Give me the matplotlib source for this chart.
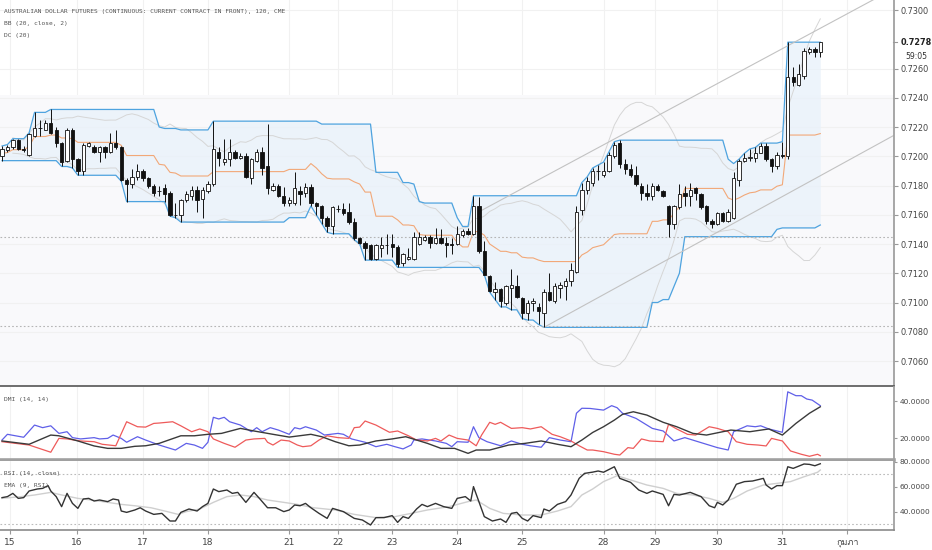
import numpy as np
import pandas as pd
import matplotlib
matplotlib.use("Agg")
import matplotlib.pyplot as plt
from matplotlib import font_manager
from fontTools.ttLib import TTFont

# 120 minute bars, AUD futures
opens = [.7200, .7204, .7206, .7211, .7205, .7201, .7214, .7219, .7218, .7223,
         .7218, .7209, .7197, .7218, .7198, .7190, .7207, .7206, .7203, .7206,
         .7203, .7209, .7206, .7184, .7181, .7186, .7190, .7185, .7180, .7176,
         .7178, .7175, .7160, .7160, .7170, .7173, .7177, .7171, .7176, .7181,
         .7203, .7196, .7198, .7203, .7199, .7200, .7185, .7197, .7203, .7193,
         .7177, .7180, .7173, .7168, .7168, .7176, .7175, .7179, .7168, .7166,
         .7158, .7152, .7164, .7164, .7162, .7155, .7144, .7141, .7139, .7130,
         .7137, .7139, .7140, .7138, .7127, .7130, .7130, .7140, .7143, .7145,
         .7141, .7144, .7141, .7140, .7140, .7146, .7149, .7147, .7166, .7135,
         .7118, .7107, .7109, .7100, .7110, .7111, .7103, .7093, .7100, .7097,
         .7093, .7107, .7101, .7110, .7111, .7115, .7121, .7163, .7177, .7182,
         .7190, .7187, .7190, .7200, .7209, .7195, .7191, .7187, .7180, .7175,
         .7173, .7180, .7176, .7166, .7154, .7165, .7175, .7173, .7178, .7174,
         .7166, .7156, .7154, .7161, .7156, .7158, .7184, .7197, .7199, .7199,
         .7202, .7207, .7198, .7193, .7201, .7200, .7254, .7249, .7255, .7271,
         .7273, .7271]
highs = [.7207, .7208, .7212, .7212, .7207, .7216, .7230, .7225, .7225, .7232,
         .7220, .7210, .7219, .7219, .7199, .7209, .7210, .7208, .7207, .7207,
         .7216, .7218, .7207, .7185, .7191, .7195, .7191, .7186, .7181, .7180,
         .7181, .7176, .7168, .7171, .7176, .7180, .7180, .7179, .7183, .7224,
         .7206, .7212, .7212, .7204, .7202, .7202, .7199, .7205, .7206, .7222,
         .7182, .7181, .7179, .7172, .7189, .7180, .7182, .7181, .7169, .7167,
         .7159, .7166, .7167, .7168, .7168, .7158, .7145, .7142, .7140, .7140,
         .7145, .7147, .7147, .7139, .7134, .7137, .7148, .7148, .7146, .7146,
         .7151, .7150, .7145, .7144, .7152, .7150, .7151, .7173, .7172, .7142,
         .7119, .7114, .7110, .7112, .7123, .7119, .7104, .7102, .7103, .7100,
         .7109, .7120, .7113, .7114, .7117, .7127, .7166, .7182, .7186, .7192,
         .7194, .7196, .7203, .7210, .7211, .7198, .7195, .7193, .7182, .7181,
         .7182, .7181, .7177, .7167, .7167, .7181, .7180, .7182, .7179, .7175,
         .7167, .7157, .7162, .7162, .7164, .7189, .7198, .7202, .7205, .7206,
         .7209, .7209, .7199, .7203, .7210, .7278, .7261, .7263, .7274, .7275,
         .7275, .7278]
lows = [.7197, .7203, .7205, .7204, .7203, .7200, .7213, .7214, .7218, .7215,
        .7206, .7193, .7196, .7192, .7187, .7187, .7206, .7202, .7196, .7199,
        .7202, .7205, .7183, .7169, .7178, .7184, .7183, .7178, .7173, .7173,
        .7169, .7159, .7158, .7155, .7169, .7170, .7162, .7158, .7175, .7180,
        .7193, .7194, .7193, .7198, .7198, .7185, .7181, .7196, .7187, .7174,
        .7176, .7172, .7166, .7166, .7167, .7167, .7172, .7166, .7160, .7154,
        .7148, .7147, .7162, .7160, .7154, .7143, .7140, .7129, .7129, .7129,
        .7131, .7133, .7131, .7124, .7125, .7129, .7129, .7139, .7142, .7137,
        .7140, .7140, .7131, .7133, .7139, .7145, .7146, .7146, .7134, .7119,
        .7107, .7102, .7097, .7098, .7095, .7103, .7089, .7088, .7094, .7085,
        .7083, .7101, .7100, .7103, .7102, .7111, .7120, .7160, .7174, .7180,
        .7184, .7186, .7189, .7199, .7192, .7188, .7186, .7180, .7170, .7170,
        .7170, .7176, .7172, .7145, .7150, .7164, .7166, .7166, .7170, .7164,
        .7154, .7151, .7153, .7155, .7155, .7157, .7180, .7196, .7197, .7196,
        .7202, .7197, .7189, .7191, .7199, .7198, .7248, .7248, .7253, .7270,
        .7268, .7268]
closes = [.7205, .7206, .7211, .7205, .7204, .7215, .7219, .7219, .7223, .7216,
          .7209, .7196, .7218, .7198, .7190, .7208, .7209, .7203, .7206, .7203,
          .7209, .7206, .7184, .7181, .7186, .7190, .7185, .7180, .7175, .7176,
          .7174, .7160, .7160, .7170, .7174, .7177, .7170, .7177, .7181, .7205,
          .7199, .7198, .7203, .7199, .7200, .7186, .7198, .7203, .7192, .7178,
          .7180, .7173, .7168, .7170, .7178, .7174, .7179, .7168, .7166, .7158,
          .7152, .7165, .7164, .7161, .7155, .7144, .7141, .7137, .7130, .7139,
          .7139, .7139, .7138, .7126, .7133, .7131, .7145, .7145, .7145, .7141,
          .7144, .7141, .7139, .7139, .7147, .7149, .7147, .7166, .7135, .7119,
          .7108, .7109, .7101, .7111, .7112, .7104, .7093, .7100, .7101, .7094,
          .7107, .7102, .7111, .7112, .7115, .7122, .7162, .7177, .7183, .7190,
          .7190, .7190, .7201, .7208, .7195, .7191, .7187, .7181, .7175, .7173,
          .7180, .7177, .7173, .7154, .7166, .7174, .7173, .7177, .7175, .7165,
          .7156, .7154, .7161, .7156, .7162, .7185, .7197, .7199, .7199, .7202,
          .7207, .7198, .7193, .7201, .7200, .7254, .7251, .7256, .7272, .7273,
          .7271, .7278]

day_pos = [1.5, 13.8, 26, 38, 53, 62, 72, 84, 96, 111, 120.5, 132, 144, 156]
day_labels = ['15', '16', '17', '18', '21', '22', '23', '24', '25', '28', '29', '30', '31', 'กุมภา']

price_ticks = [0.7060, 0.7080, 0.7100, 0.7120, 0.7140, 0.7160, 0.7180, 0.7200,
               0.7220, 0.7240, 0.7260, 0.7300]
last_price = 0.7278
hlines = [0.7145, 0.7084]
chan_up = [(88, 0.7162), (152.8, 0.72911)]
chan_lo = [(100, 0.7083), (154.6, 0.7194)]

# DMI (14, 14)
pdi_x = [0, 1, 4, 6, 7.5, 9, 10.5, 12, 13, 14.5, 17, 18, 19.5, 20.5, 22, 23, 25, 26.5, 29, 32,
         34, 35.5, 37, 38, 39, 40, 41, 42, 44, 46, 47, 48, 49.5, 51, 53, 54, 55, 56, 58, 59.5,
         62, 63, 64.5, 67, 69, 71, 72.5, 74, 75.5, 76, 77.5, 80, 82, 83, 84, 86, 87, 88, 89.5, 92,
         94, 96, 97.5, 99.5, 101, 103, 105, 106, 107, 108.5, 111, 112.5, 113.5, 114.5, 117, 120,
         122, 124, 126, 128, 130, 132, 134, 135, 137.5, 139, 140, 141.5, 144, 145, 146.5, 147.5,
         148.5, 149.5, 151]
pdi = [18.9, 22.0, 20.4, 27.0, 25.6, 26.6, 22.5, 23.4, 20.2, 19.5, 20.2, 19.5, 19.8, 21.6, 19.8,
       17.7, 20.7, 18.9, 16.2, 13.5, 17.1, 16.2, 14.4, 17.7, 31.2, 30.3, 31.2, 28.8, 27.0, 23.4,
       25.6, 23.4, 25.6, 24.3, 22.0, 25.6, 24.9, 26.1, 24.3, 21.6, 22.5, 22.0, 19.5, 17.7, 15.3,
       16.6, 15.3, 14.1, 16.2, 18.9, 19.5, 18.4, 17.1, 15.3, 18.0, 17.7, 26.1, 20.2, 18.0, 15.8,
       18.4, 16.6, 15.8, 15.0, 20.2, 18.9, 18.0, 33.4, 36.1, 36.0, 35.1, 37.5, 36.4, 33.4, 30.6,
       25.2, 23.8, 18.4, 20.2, 18.4, 16.6, 14.8, 13.5, 23.4, 26.6, 26.1, 26.6, 24.9, 23.1, 45.0,
       42.9, 42.9, 41.1, 40.5, 37.5]
mdi_x = [0, 2.5, 5, 9, 10.5, 12, 14.5, 17, 18.5, 21, 23, 25, 26.5, 28, 29, 31.5, 33, 35, 36.5, 38,
         39, 41, 43, 45, 46.5, 48.5, 49, 50, 51.5, 53, 54.5, 55.5, 57, 58.5, 60, 62, 64, 65, 66, 67,
         69, 71.5, 73, 75, 76.5, 78.5, 80, 81, 82.5, 84, 86, 87.5, 88.5, 90, 91, 92, 94, 96, 97.5,
         99.5, 101.5, 103, 105, 106.5, 108, 109, 111, 113, 114, 115.5, 116.5, 118, 119.5, 122, 123,
         124.5, 126.5, 128, 130.5, 132, 134, 135.5, 137.5, 139.5, 141, 142, 144, 145.5, 147.5, 149,
         150.5, 151]
mdi = [18.0, 17.1, 16.2, 12.3, 19.8, 19.5, 18.4, 18.0, 16.6, 15.8, 28.8, 26.1, 25.9, 27.9, 28.1,
       28.8, 26.6, 23.4, 24.9, 23.4, 19.5, 17.1, 15.0, 18.9, 19.5, 19.8, 17.7, 16.2, 18.9, 18.4,
       16.2, 15.3, 15.8, 18.9, 21.2, 20.2, 19.8, 25.6, 25.9, 29.2, 27.0, 23.1, 23.8, 21.2, 18.9,
       18.4, 19.8, 18.4, 21.6, 19.8, 18.9, 15.8, 21.6, 28.5, 27.4, 28.5, 25.2, 25.6, 24.9, 26.1,
       22.0, 20.7, 18.4, 15.8, 13.5, 13.5, 12.6, 11.2, 10.8, 14.8, 14.4, 19.5, 18.4, 18.0, 27.4,
       24.9, 22.0, 21.6, 26.1, 25.2, 23.4, 18.0, 16.6, 16.2, 15.7, 19.8, 18.4, 13.0, 11.2, 10.1,
       11.2, 10.4]
adx_x = [0, 5, 9, 10.5, 14, 17, 19.5, 22, 24.5, 26.5, 29, 33, 35.5, 38, 40.5, 44, 46.5, 50, 53,
         57, 59, 61.5, 64, 66, 69, 72, 74.5, 76.5, 78.5, 81, 83.5, 86, 87.5, 90, 93.5, 96.5, 99.5,
         102.5, 105, 107, 109, 111, 113, 114.5, 116.5, 119, 122, 124.5, 127.5, 130, 134.5, 138,
         141.5, 144, 146.5, 149, 151]
adx = [18.4, 16.6, 21.6, 21.2, 18.4, 15.7, 14.4, 14.4, 15.5, 15.8, 17.1, 21.2, 21.2, 22.0, 22.5,
       25.2, 23.8, 22.0, 20.5, 22.0, 20.7, 18.0, 15.8, 16.2, 18.4, 19.5, 20.7, 18.9, 17.1, 14.4,
       14.4, 11.7, 13.5, 13.5, 16.2, 17.1, 18.4, 16.6, 15.3, 18.9, 23.0, 26.1, 29.7, 32.8, 34.2,
       32.4, 28.5, 26.1, 22.5, 21.6, 24.3, 23.4, 24.9, 21.6, 27.9, 33.4, 36.9]

# RSI (14, close) and EMA (9, RSI)
rsi_x = [0, 1, 2, 3, 4, 5, 6.5, 7.5, 8.5, 9, 10, 11, 12, 13, 14, 15, 16, 17, 18, 19.5, 20.5, 21.5,
         22, 23, 24.5, 25.5, 26.5, 28, 29.5, 31, 32, 33, 34.5, 36, 37, 38, 39, 40, 41.5, 42.5, 43.5,
         45, 46.5, 47.5, 49, 50.5, 52, 53, 54, 55, 56, 57, 58.5, 60, 61, 62, 63, 65, 66.5, 68, 69,
         70.5, 72, 73, 74, 75, 76.5, 77.5, 78.5, 80, 81.5, 83, 84, 85.5, 86.5, 87, 88, 89, 90.5, 92,
         93, 94, 95, 96, 97, 98, 99.5, 100, 101, 102.5, 104, 105, 106.5, 107.5, 109, 110, 111, 113,
         114, 116, 117.5, 119, 120, 122, 123, 124, 125, 127, 129, 130.5, 131.5, 132, 133, 134,
         135.5, 137, 138.5, 140.5, 141, 142, 143, 144, 145, 146, 148, 149, 150, 151]
rsi = [51.1, 51.9, 54.5, 50.5, 51.1, 56.4, 58.0, 58.5, 60.7, 56.4, 51.9, 43.9, 54.5, 46.5, 42.5,
       50.0, 50.5, 48.4, 49.2, 47.9, 50.0, 49.2, 40.4, 39.3, 41.2, 43.0, 40.4, 37.7, 38.5, 32.4,
       32.4, 39.3, 42.0, 40.4, 43.9, 46.5, 58.0, 55.9, 57.2, 54.5, 55.3, 47.3, 55.3, 50.5, 43.0,
       43.0, 39.9, 41.2, 45.2, 44.6, 46.5, 43.0, 38.5, 34.5, 42.5, 41.2, 39.9, 34.5, 33.2, 29.2,
       35.1, 35.1, 36.7, 31.3, 35.9, 34.5, 42.0, 45.7, 43.9, 46.5, 43.9, 42.5, 50.5, 51.9, 48.4,
       59.9, 47.9, 35.9, 32.4, 34.0, 31.3, 38.5, 39.3, 34.5, 32.4, 36.7, 35.1, 42.0, 40.4, 45.7,
       47.9, 53.2, 66.5, 70.5, 71.5, 72.4, 71.4, 75.8, 66.5, 63.3, 57.2, 54.5, 56.4, 53.7, 44.6,
       53.7, 53.2, 55.3, 51.9, 44.6, 43.0, 47.3, 45.2, 49.2, 61.8, 63.9, 64.4, 66.5, 61.2, 58.0,
       60.7, 60.7, 75.8, 74.5, 78.0, 77.7, 76.6, 78.2]
ema_x = [0, 3.5, 6, 9, 10.5, 14, 16.5, 19.5, 22, 24.5, 27.5, 30.5, 32.5, 34, 36.5, 39, 41.5, 44,
         46.5, 49, 52, 54.5, 57.5, 61.5, 65, 69, 72.5, 75.5, 78.5, 82.5, 86, 87.5, 90, 92.5, 96,
         99.5, 102.5, 105, 107, 109, 111, 113.5, 116, 119, 122, 124.5, 127.5, 130.5, 133, 135,
         137.5, 140.5, 143, 145.5, 148, 150.5, 151]
ema = [50.5, 51.9, 53.2, 55.3, 53.7, 50.5, 49.2, 47.3, 45.7, 44.6, 43.0, 39.9, 37.7, 39.9, 42.0,
       47.3, 51.9, 53.2, 51.9, 49.2, 47.3, 45.7, 43.0, 41.2, 37.7, 35.1, 35.9, 38.5, 41.2, 43.9,
       47.9, 49.2, 42.5, 38.5, 37.2, 37.2, 40.4, 43.9, 53.2, 58.0, 63.9, 68.6, 65.2, 61.2, 58.5,
       54.5, 53.2, 50.5, 47.3, 50.5, 56.4, 61.2, 62.5, 63.9, 67.8, 71.4, 73.2]

# Thai month label needs a font with Thai glyphs
thai_font = None
for f in font_manager.fontManager.ttflist:
    try:
        cmap = TTFont(f.fname, fontNumber=0, lazy=True).getBestCmap()
    except Exception:
        continue
    if cmap and 0x0E01 in cmap:
        thai_font = f.name
        break
fams = ['DejaVu Sans'] + ([thai_font] if thai_font else [])
plt.rcParams['font.family'] = fams

df = pd.DataFrame({'o': opens, 'h': highs, 'l': lows, 'c': closes})
n = len(df)
idx = np.arange(n)
dc_up = df['h'].rolling(20, min_periods=1).max()
dc_lo = df['l'].rolling(20, min_periods=1).min()
dc_mid = (dc_up + dc_lo) / 2
bb_mid = df['c'].rolling(20, min_periods=3).mean()
bb_sd = df['c'].rolling(20, min_periods=3).std(ddof=0)
bb_up = bb_mid + 2 * bb_sd
bb_lo = bb_mid - 2 * bb_sd

W, H = 932, 550
fig = plt.figure(figsize=(W / 100, H / 100), dpi=100)
axw = 894 / W
ax = fig.add_axes([0, 1 - 386 / H, axw, 386 / H])
ax2 = fig.add_axes([0, 1 - 460 / H, axw, 73 / H])
ax3 = fig.add_axes([0, 1 - 530 / H, axw, 69 / H])

xlim = (-0.37, 164.6)
for a in (ax, ax2, ax3):
    a.set_xlim(*xlim)
    a.set_facecolor('white')
    for d in day_pos:
        a.axvline(d, color='#f1f1f1', lw=0.8, zorder=0)
    a.spines['left'].set_visible(False)
    a.spines['top'].set_visible(False)
    a.spines['right'].set_color('#a0a0a0')
    a.spines['right'].set_linewidth(1.3)
    a.yaxis.tick_right()
    a.tick_params(axis='y', labelsize=5.9, colors='#444444', length=3, width=0.8, pad=2)
    a.tick_params(axis='y', color='#999999')
    a.set_xticks([])
for a in (ax2, ax3):
    a.tick_params(axis='y', labelsize=5.3, length=2.5, pad=1.5)

# main price panel
ax.set_ylim(0.704291, 0.730684)
ax.axhspan(0.704291, 0.7242, color='#f9f9fb', zorder=0, lw=0)
for p in price_ticks:
    ax.axhline(p, color='#f1f1f1', lw=0.8, zorder=0)
ax.fill_between(idx, dc_lo, dc_up, color='#e8f1fa', alpha=0.75, lw=0, zorder=1)
ax.plot(idx, bb_up, color='#d6d6d6', lw=0.7, zorder=2)
ax.plot(idx, bb_lo, color='#d6d6d6', lw=0.7, zorder=2)
ax.plot(idx, dc_up, color='#4ea3df', lw=0.9, zorder=2)
ax.plot(idx, dc_lo, color='#4ea3df', lw=0.9, zorder=2)
ax.plot(idx, dc_mid, color='#f2a878', lw=0.8, zorder=2)
for hp in hlines:
    ax.axhline(hp, color='#b5b5b5', lw=0.8, ls=(0, (1.5, 2)), zorder=2)
for (x0, y0), (x1, y1) in (chan_up, chan_lo):
    slope = (y1 - y0) / (x1 - x0)
    ax.plot([x0, xlim[1]], [y0, y0 + slope * (xlim[1] - x0)], color='#c2c2c2', lw=0.8, zorder=2)

ax.vlines(idx, df['l'], df['h'], color='#111111', lw=0.7, zorder=3)
up = df['c'] >= df['o']
body_lo = np.minimum(df['o'], df['c'])
body_h = np.maximum(np.abs(df['c'] - df['o']), 0.000015)
ax.bar(idx, body_h, bottom=body_lo, width=0.62,
       color=np.where(up, 'white', '#111111'), edgecolor='#111111', linewidth=0.6, zorder=4)

ax.set_yticks(price_ticks)
ax.set_yticklabels([f'{p:.4f}' for p in price_ticks])
ax.spines['bottom'].set_color('#555555')
ax.spines['bottom'].set_linewidth(1.2)
ax.annotate(f'{last_price:.4f}', xy=(1, last_price), xycoords=('axes fraction', 'data'),
            xytext=(4.5, 0), textcoords='offset points', ha='left', va='center',
            fontsize=5.9, fontweight='bold', color='#222222')
ax.annotate('59:05', xy=(1, last_price), xycoords=('axes fraction', 'data'),
            xytext=(8, -10), textcoords='offset points', ha='left', va='center',
            fontsize=5.6, color='#333333')
ax.plot([xlim[1] - 0.2, xlim[1] + 0.5], [last_price, last_price], color='#999999', lw=0.8,
        clip_on=False, zorder=5)

# DMI panel
ax2.set_ylim(8.1, 47.6)
ax2.plot(pdi_x, pdi, color='#5f5fe8', lw=0.9)
ax2.plot(mdi_x, mdi, color='#ee5a5a', lw=0.9)
ax2.plot(adx_x, adx, color='#3a3a3a', lw=1.0)
ax2.set_yticks([20, 40])
ax2.set_yticklabels(['20.0000', '40.0000'])
ax2.spines['bottom'].set_color('#a0a0a0')
ax2.spines['bottom'].set_linewidth(2.6)

# RSI panel
ax3.set_ylim(25.2, 80.4)
for lvl in (70, 30):
    ax3.axhline(lvl, color='#bbbbbb', lw=0.8, ls=(0, (1.5, 2)))
ax3.plot(ema_x, ema, color='#cfcfcf', lw=1.0)
ax3.plot(rsi_x, rsi, color='#333333', lw=1.0)
ax3.set_yticks([40, 60, 80])
ax3.set_yticklabels(['40.0000', '60.0000', '80.0000'])
ax3.spines['bottom'].set_color('#8a8a8a')
ax3.spines['bottom'].set_linewidth(1.2)
ax3.set_xticks(day_pos)
ax3.set_xticklabels(day_labels)
ax3.tick_params(axis='x', labelsize=6.5, colors='#444444', length=3, pad=3)
ax3.tick_params(axis='x', color='#999999')

mono = 'DejaVu Sans Mono'
txt = dict(family=mono, fontsize=4.5, color='#555555', va='center', ha='left')
fig.text(4 / W, 1 - 12 / H, 'AUSTRALIAN DOLLAR FUTURES (CONTINUOUS: CURRENT CONTRACT IN FRONT), 120, CME', **txt)
fig.text(4 / W, 1 - 24 / H, 'BB (20, close, 2)', **txt)
fig.text(4 / W, 1 - 36 / H, 'DC (20)', **txt)
fig.text(4 / W, 1 - 400 / H, 'DMI (14, 14)', **txt)
fig.text(4 / W, 1 - 473 / H, 'RSI (14, close)', **txt)
fig.text(4 / W, 1 - 485 / H, 'EMA (9, RSI)', **txt)

fig.savefig('out.png', dpi=100)
